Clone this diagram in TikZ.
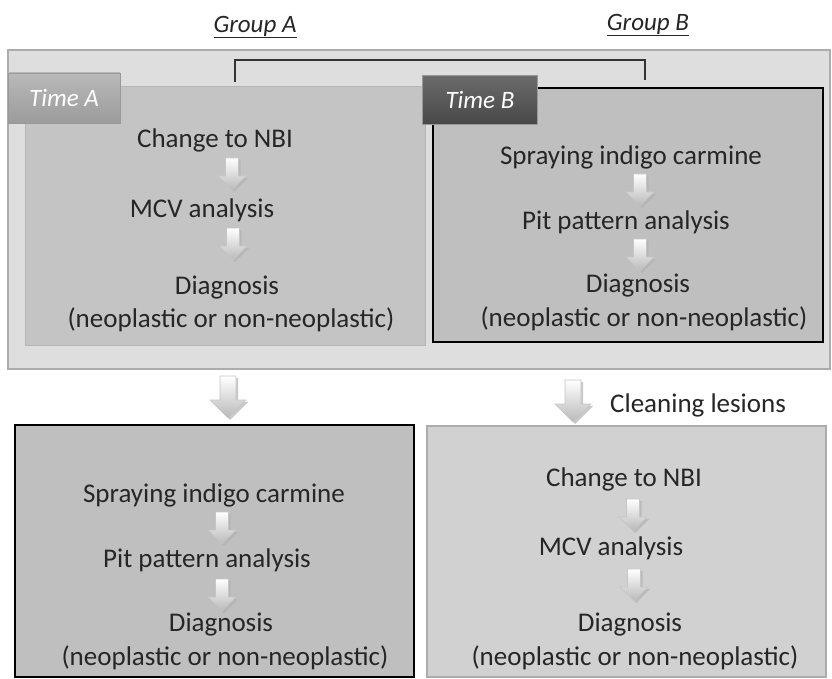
\documentclass[tikz,border=0pt]{standalone}
\usepackage{fontspec}
\setmainfont{Carlito}
\begin{document}
\begin{tikzpicture}[x=1pt,y=-1pt]
\tikzset{
  txt/.style={font=\fontsize{27}{32}\selectfont, inner sep=0pt, text=black!85},
  grp/.style={font=\fontsize{25}{30}\selectfont\itshape, inner sep=0pt, text=black!85},
  timelbl/.style={font=\fontsize{25}{30}\selectfont\itshape, text=white, inner sep=0pt, draw=gray!80, line width=0.8pt},
  framebox/.style={draw=gray!65, line width=1.2pt, fill=gray!26, inner sep=0pt},
  panelplain/.style={draw=gray!58, line width=1pt, fill=gray!46, inner sep=0pt},
  panelbold/.style={draw=black, line width=2.5pt, fill=gray!50, inner sep=0pt},
  panellight/.style={draw=gray!65, line width=1.2pt, fill=gray!36, inner sep=0pt},
  bracketline/.style={draw=black!80, line width=1.3pt},
  smallarrow/.pic={
    \fill[gray!60, opacity=0.7] (-4.5,-14) -- (8.5,-14) -- (8.5,4) -- (16,4) -- (2,18) -- (-12,4) -- (-4.5,4) -- cycle;
    \path[top color=white, bottom color=gray!55, draw=gray!45, line width=0.6pt]
      (-6.5,-16) -- (6.5,-16) -- (6.5,2) -- (14,2) -- (0,16) -- (-14,2) -- (-6.5,2) -- cycle;
  },
  bigarrow/.pic={
    \fill[gray!60, opacity=0.7] (-6,-19) -- (10,-19) -- (10,5) -- (20,5) -- (2,23) -- (-16,5) -- (-6,5) -- cycle;
    \path[top color=white, bottom color=gray!55, draw=gray!45, line width=0.6pt]
      (-8,-21) -- (8,-21) -- (8,3) -- (18,3) -- (0,21) -- (-18,3) -- (-8,3) -- cycle;
  }
}
\useasboundingbox (0,0) rectangle (832,679);

% group headings
\node[grp] (grpA) at (255,27) {\underline{Group A}};
\node[grp] (grpB) at (648,25) {\underline{Group B}};

% outer frame
\node[framebox, minimum width=822pt, minimum height=319pt] (outer) at (419,209.5) {};

% bracket
\coordinate (brL) at (235,82);
\coordinate (brLt) at (235,60);
\coordinate (brRt) at (645,60);
\coordinate (brR) at (645,80);
\draw[bracketline] (brL) -- (brLt) -- (brRt) -- (brR);

% top panels
\node[panelplain, minimum width=400pt, minimum height=258pt] (panelA) at (225,216) {};
\node[panelbold, minimum width=390pt, minimum height=254pt] (panelB) at (628,215) {};

% time labels
\node[timelbl, top color=gray!55, bottom color=gray!78, minimum width=112pt, minimum height=50pt] (timeA) at (64,98) {Time A};
\node[timelbl, fill=gray!125, top color=black!58, bottom color=black!72, minimum width=115pt, minimum height=49pt] (timeB) at (480,100) {Time B};

% top-left contents
\node[txt] (a1) at (215,140) {Change to NBI};
\pic at (232,174) {smallarrow};
\node[txt] (a2) at (202,210) {MCV analysis};
\pic at (233,244) {smallarrow};
\node[txt] (a3) at (227,288) {Diagnosis};
\node[txt] (a4) at (231,320) {(neoplastic or non-neoplastic)};

% top-right contents
\node[txt] (b1) at (631,157) {Spraying indigo carmine};
\pic at (640,190) {smallarrow};
\node[txt] (b2) at (626,222) {Pit pattern analysis};
\pic at (640,255) {smallarrow};
\node[txt] (b3) at (638,286) {Diagnosis};
\node[txt] (b4) at (644,319) {(neoplastic or non-neoplastic)};

% middle arrows
\pic at (228,397) {bigarrow};
\pic at (573,401) {bigarrow};
\node[txt, anchor=west] (clean) at (610,405) {Cleaning lesions};

% bottom boxes
\node[panelbold, minimum width=399pt, minimum height=252pt] (boxC) at (214.5,551) {};
\node[panellight, minimum width=399pt, minimum height=251pt] (boxD) at (626.5,551.5) {};

% bottom-left contents
\node[txt] (c1) at (214,495) {Spraying indigo carmine};
\pic at (222,528) {smallarrow};
\node[txt] (c2) at (207,560) {Pit pattern analysis};
\pic at (222,595) {smallarrow};
\node[txt] (c3) at (221,625) {Diagnosis};
\node[txt] (c4) at (225,658) {(neoplastic or non-neoplastic)};

% bottom-right contents
\node[txt] (d1) at (624,479) {Change to NBI};
\pic at (633,515) {smallarrow};
\node[txt] (d2) at (611,548) {MCV analysis};
\pic at (634,585) {smallarrow};
\node[txt] (d3) at (630,625) {Diagnosis};
\node[txt] (d4) at (635,658) {(neoplastic or non-neoplastic)};
\end{tikzpicture}
\end{document}
